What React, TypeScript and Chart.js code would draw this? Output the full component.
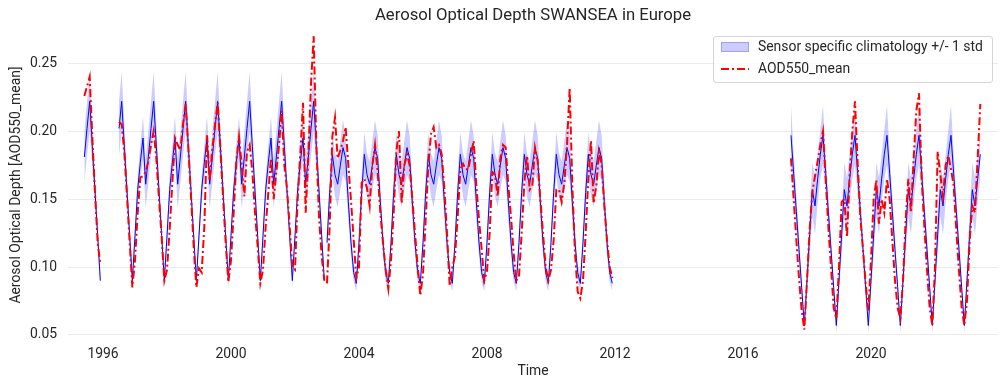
import React, { useEffect, useRef } from 'react';
import { Chart, registerables } from 'chart.js';

Chart.register(...registerables);

const TITLE = 'Aerosol Optical Depth SWANSEA in Europe';
const X_TITLE = 'Time';
const Y_TITLE = 'Aerosol Optical Depth [AOD550_mean]';
const BAND_LABEL = 'Sensor specific climatology +/- 1 std';
const AOD_LABEL = 'AOD550_mean';

const X_TICKS = [1996, 2000, 2004, 2008, 2012, 2016, 2020];
const Y_TICKS = [0.05, 0.1, 0.15, 0.2, 0.25];
const X_MIN = 1994.906;
const X_MAX = 2023.969;
const Y_MIN = 0.0463;
const Y_MAX = 0.2745;

// Monthly climatology (Jan..Dec) per sensor: mean and std
const CLIM_ATSR2 = [0.123, 0.157, 0.177, 0.195, 0.161, 0.181, 0.202, 0.222, 0.189, 0.156, 0.123, 0.09];
const STD_ATSR2 = [0.007, 0.01, 0.013, 0.016, 0.018, 0.019, 0.02, 0.022, 0.016, 0.011, 0.008, 0.005];
const CLIM_AATSR = [0.118, 0.155, 0.183, 0.168, 0.161, 0.175, 0.188, 0.18, 0.148, 0.118, 0.096, 0.088];
const STD_AATSR = [0.008, 0.012, 0.016, 0.016, 0.017, 0.018, 0.02, 0.017, 0.013, 0.01, 0.007, 0.006];
const CLIM_SLSTR = [0.09, 0.124, 0.157, 0.145, 0.165, 0.183, 0.197, 0.169, 0.141, 0.113, 0.085, 0.057];
const STD_SLSTR = [0.01, 0.015, 0.02, 0.021, 0.018, 0.018, 0.022, 0.015, 0.012, 0.01, 0.007, 0.005];

// Monthly AOD550 mean values
// Jun 1995 - Dec 1995 (ATSR-2)
const AOD_1995 = [0.226, 0.233, 0.24, 0.195, 0.155, 0.118, 0.102];
// Jul 1996 - Dec 2002 (ATSR-2)
const AOD_1996_2002 = [
  0.207, 0.205, 0.185, 0.152, 0.118, 0.085,
  0.105, 0.14, 0.166, 0.167, 0.17, 0.178, 0.19, 0.2, 0.18, 0.15, 0.122, 0.09,
  0.098, 0.128, 0.162, 0.195, 0.19, 0.186, 0.205, 0.22, 0.188, 0.152, 0.115, 0.085,
  0.099, 0.096, 0.13, 0.197, 0.164, 0.187, 0.205, 0.221, 0.188, 0.152, 0.118, 0.089,
  0.105, 0.14, 0.178, 0.196, 0.175, 0.152, 0.185, 0.19, 0.17, 0.14, 0.115, 0.088,
  0.098, 0.13, 0.155, 0.18, 0.15, 0.17, 0.19, 0.215, 0.175, 0.158, 0.13, 0.1,
  0.098, 0.15, 0.184, 0.221, 0.14, 0.182, 0.235, 0.27, 0.19, 0.137, 0.108, 0.09,
];
// Jan 2003 - Dec 2011 (AATSR)
const AOD_2003_2011 = [
  0.088, 0.13, 0.196, 0.21, 0.18, 0.186, 0.193, 0.203, 0.175, 0.149, 0.12, 0.092,
  0.1, 0.162, 0.165, 0.158, 0.145, 0.175, 0.19, 0.17, 0.14, 0.118, 0.098, 0.084,
  0.105, 0.14, 0.185, 0.2, 0.147, 0.175, 0.183, 0.175, 0.15, 0.125, 0.1, 0.079,
  0.095, 0.135, 0.175, 0.198, 0.203, 0.188, 0.19, 0.183, 0.158, 0.125, 0.086, 0.1,
  0.108, 0.137, 0.172, 0.176, 0.172, 0.172, 0.183, 0.193, 0.16, 0.135, 0.113, 0.09,
  0.097, 0.125, 0.17, 0.168, 0.152, 0.18, 0.19, 0.188, 0.16, 0.137, 0.11, 0.09,
  0.093, 0.125, 0.162, 0.182, 0.157, 0.16, 0.188, 0.178, 0.15, 0.125, 0.1, 0.09,
  0.098, 0.12, 0.157, 0.157, 0.148, 0.162, 0.19, 0.232, 0.16, 0.11, 0.082, 0.077,
  0.09, 0.125, 0.165, 0.193, 0.147, 0.16, 0.185, 0.175, 0.145, 0.12, 0.1, 0.092,
];
// Jul 2017 - Jun 2023 (SLSTR)
const AOD_2017_2023 = [
  0.18, 0.15, 0.12, 0.092, 0.068, 0.054,
  0.09, 0.128, 0.155, 0.167, 0.178, 0.19, 0.2, 0.165, 0.13, 0.1, 0.07, 0.062,
  0.1, 0.148, 0.15, 0.122, 0.168, 0.2, 0.222, 0.176, 0.137, 0.113, 0.088, 0.068,
  0.105, 0.15, 0.164, 0.132, 0.15, 0.14, 0.165, 0.15, 0.12, 0.09, 0.07, 0.062,
  0.09, 0.135, 0.165, 0.14, 0.18, 0.215, 0.228, 0.165, 0.13, 0.098, 0.07, 0.057,
  0.1, 0.185, 0.168, 0.152, 0.175, 0.182, 0.172, 0.16, 0.127, 0.097, 0.07, 0.057,
  0.075, 0.12, 0.145, 0.14, 0.18, 0.22,
];

const SEGMENTS = [
  { year: 1995, month: 5, values: AOD_1995, clim: CLIM_ATSR2, std: STD_ATSR2 },
  { year: 1996, month: 6, values: AOD_1996_2002, clim: CLIM_ATSR2, std: STD_ATSR2 },
  { year: 2003, month: 0, values: AOD_2003_2011, clim: CLIM_AATSR, std: STD_AATSR },
  { year: 2017, month: 6, values: AOD_2017_2023, clim: CLIM_SLSTR, std: STD_SLSTR },
];

type P = { x: number; y: number | null };

function buildSeries() {
  const red: P[] = [];
  const mean: P[] = [];
  const upper: P[] = [];
  const lower: P[] = [];
  SEGMENTS.forEach((seg, si) => {
    if (si > 0) {
      const gx = red[red.length - 1].x + 1 / 24;
      [red, mean, upper, lower].forEach((arr) => arr.push({ x: gx, y: null }));
    }
    seg.values.forEach((v, i) => {
      const m = seg.month + i;
      const yr = seg.year + Math.floor(m / 12);
      const mm = m % 12;
      const x = yr + mm / 12;
      const c = seg.clim[mm];
      const s = seg.std[mm];
      red.push({ x, y: v });
      mean.push({ x, y: c });
      upper.push({ x, y: c + s });
      lower.push({ x, y: c - s });
    });
  });
  return { red, mean, upper, lower };
}

const FONT = 'Roboto';
const TEXT = '#262626';
const FS = 13.9;

export default function App() {
  const ref = useRef<HTMLCanvasElement | null>(null);

  useEffect(() => {
    if (!ref.current) return;
    const { red, mean, upper, lower } = buildSeries();
    const chart = new Chart(ref.current, {
      type: 'line',
      data: {
        datasets: [
          { label: 'upper', data: upper as any, borderWidth: 0, pointRadius: 0, fill: false, order: 3, spanGaps: false },
          {
            label: BAND_LABEL, data: lower as any, borderWidth: 0, pointRadius: 0,
            backgroundColor: 'rgba(0,0,255,0.2)', fill: '-1', order: 2, spanGaps: false,
          },
          { label: 'climatology', data: mean as any, borderColor: '#0000ff', borderWidth: 1, pointRadius: 0, fill: false, order: 1, spanGaps: false },
          {
            label: AOD_LABEL, data: red as any, borderColor: '#ff0000', borderWidth: 2,
            borderDash: [8, 3, 2, 3], pointRadius: 0, fill: false, order: 0, spanGaps: false,
          },
        ],
      },
      options: {
        animation: false,
        responsive: false,
        maintainAspectRatio: false,
        layout: { padding: { left: 0, right: 9, top: 0, bottom: 0 } },
        plugins: {
          legend: { display: false },
          tooltip: { enabled: false },
          title: {
            display: true, text: TITLE, color: TEXT, fullSize: false,
            font: { family: FONT, size: 16.7, weight: 'normal' },
            padding: { top: 6, bottom: 4 },
          },
        },
        scales: {
          x: {
            type: 'linear', min: X_MIN, max: X_MAX,
            grid: { display: false, drawTicks: false },
            border: { display: false },
            afterBuildTicks: (s: any) => { s.ticks = X_TICKS.map((v) => ({ value: v })); },
            afterFit: (s: any) => { s.height = 51; },
            ticks: {
              color: TEXT, font: { family: FONT, size: FS }, padding: 6, maxRotation: 0,
              callback: (v: any) => String(v),
            },
            title: { display: true, text: X_TITLE, color: TEXT, font: { family: FONT, size: FS }, padding: { top: 0, bottom: 11 } },
          },
          y: {
            type: 'linear', min: Y_MIN, max: Y_MAX,
            grid: { color: '#ebebeb', lineWidth: 1, drawTicks: false },
            border: { display: false },
            afterBuildTicks: (s: any) => { s.ticks = Y_TICKS.map((v) => ({ value: v })); },
            afterFit: (s: any) => { s.width = 68; },
            ticks: {
              color: TEXT, font: { family: FONT, size: FS }, padding: 11,
              callback: (v: any) => Number(v).toFixed(2),
            },
            title: { display: true, text: Y_TITLE, color: TEXT, font: { family: FONT, size: FS }, padding: { top: 8, bottom: 0 } },
          },
        },
      },
    });
    return () => chart.destroy();
  }, []);

  return (
    <div style={{ position: 'absolute', left: 0, top: 0, width: 1007, height: 391, background: '#fff' }}>
      <canvas ref={ref} width={1007} height={391} style={{ width: 1007, height: 391, display: 'block' }} />
      <div
        style={{
          position: 'absolute', left: 713, top: 36, width: 278, height: 45,
          border: '1px solid #d6d6d6', borderRadius: 3, background: 'rgba(255,255,255,0.8)',
          fontFamily: FONT, fontSize: FS, color: TEXT, boxSizing: 'content-box',
        }}
      >
        <div style={{ position: 'absolute', left: 7, top: 5, width: 28, height: 10, background: 'rgba(0,0,255,0.2)', border: '1px solid rgba(0,0,255,0.22)', boxSizing: 'border-box' }} />
        <div style={{ position: 'absolute', left: 44, top: 1, lineHeight: '17px', whiteSpace: 'nowrap' }}>{BAND_LABEL}</div>
        <svg style={{ position: 'absolute', left: 7, top: 27 }} width={28} height={10}>
          <line x1={0} y1={5} x2={28} y2={5} stroke="#ff0000" strokeWidth={2} strokeDasharray="8,3,2,3" />
        </svg>
        <div style={{ position: 'absolute', left: 44, top: 23, lineHeight: '17px', whiteSpace: 'nowrap' }}>{AOD_LABEL}</div>
      </div>
    </div>
  );
}
